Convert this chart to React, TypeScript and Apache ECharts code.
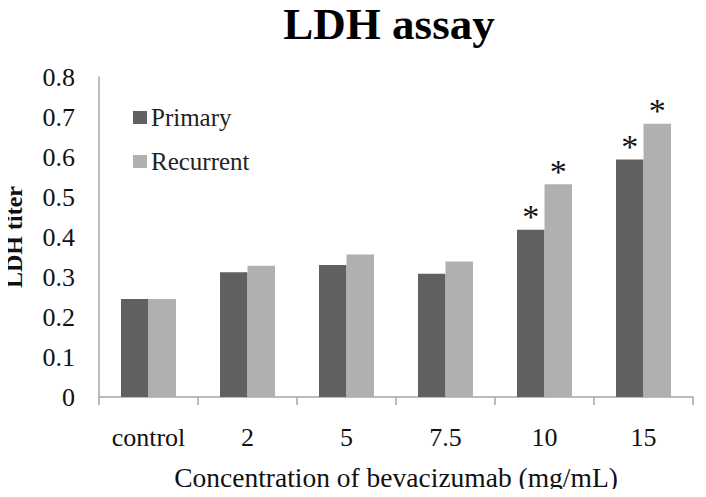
import React, { useEffect, useRef } from "react";
import * as echarts from "echarts";

const categories = ["control", "2", "5", "7.5", "10", "15"];
const primary = [0.245, 0.312, 0.33, 0.308, 0.418, 0.594];
const recurrent = [0.245, 0.328, 0.356, 0.339, 0.532, 0.683];
const primaryStar = [false, false, false, false, true, true];
const recurrentStar = [false, false, false, false, true, true];
const yTicks = { min: 0, max: 0.8, interval: 0.1 };

const FONT = "Liberation Serif, Times New Roman, serif";

export default function App() {
  const ref = useRef<HTMLDivElement>(null);
  useEffect(() => {
    if (!ref.current) return;
    const chart = echarts.init(ref.current, undefined, { renderer: "svg" });
    const starLabel = {
      show: true,
      position: "top",
      distance: -4,
      formatter: "*",
      fontFamily: FONT,
      fontSize: 34,
      color: "#111",
    };
    const mk = (vals: number[], stars: boolean[]) =>
      vals.map((v, i) => (stars[i] ? { value: v, label: starLabel } : { value: v }));
    chart.setOption({
      animation: false,
      backgroundColor: "#fff",
      textStyle: { fontFamily: FONT },
      graphic: [
        {
          type: "text",
          x: 389,
          y: 24,
          style: {
            text: "LDH assay",
            font: `bold 45px ${FONT}`,
            fill: "#000",
            textAlign: "center",
            textVerticalAlign: "middle",
          },
        },
      ],
      legend: {
        orient: "vertical",
        left: 128,
        top: 100,
        itemWidth: 14,
        itemHeight: 13,
        itemGap: 19,
        icon: "rect",
        textStyle: { fontFamily: FONT, fontSize: 25, color: "#222", padding: [0, 0, 0, -1] },
        data: ["Primary", "Recurrent"],
      },
      grid: { left: 99, right: 13, top: 77, bottom: 100, containLabel: false, outerBoundsMode: "none" },
      xAxis: {
        type: "category",
        data: categories,
        name: "Concentration of bevacizumab (mg/mL)",
        nameLocation: "middle",
        nameGap: 66,
        nameTextStyle: { fontFamily: FONT, fontSize: 27.5, color: "#111" },
        axisLine: { lineStyle: { color: "#a6a6a6", width: 1.5 } },
        axisTick: { show: true, length: 8, lineStyle: { color: "#a6a6a6", width: 1.5 } },
        axisLabel: { margin: 27, fontFamily: FONT, fontSize: 26, color: "#111" },
      },
      yAxis: {
        type: "value",
        min: yTicks.min,
        max: yTicks.max,
        interval: yTicks.interval,
        name: "LDH titer",
        nameLocation: "middle",
        nameGap: 73,
        nameTextStyle: { fontFamily: FONT, fontSize: 24, fontWeight: "bold", color: "#111" },
        axisLine: { show: true, lineStyle: { color: "#a6a6a6", width: 1.5 } },
        axisTick: { show: false },
        splitLine: { show: false },
        axisLabel: {
          margin: 24,
          fontFamily: FONT,
          fontSize: 26,
          color: "#111",
          formatter: (v: number) => (v === 0 ? "0" : v.toFixed(1)),
        },
      },
      series: [
        {
          name: "Primary",
          type: "bar",
          data: mk(primary, primaryStar),
          barWidth: 27.5,
          barGap: "0%",
          itemStyle: { color: "#606060" },
        },
        {
          name: "Recurrent",
          type: "bar",
          data: mk(recurrent, recurrentStar),
          barWidth: 27.5,
          barGap: "0%",
          itemStyle: { color: "#b0b0b0" },
        },
      ],
    });
    return () => chart.dispose();
  }, []);
  return <div ref={ref} style={{ width: 706, height: 497, margin: -8 }} />;
}
